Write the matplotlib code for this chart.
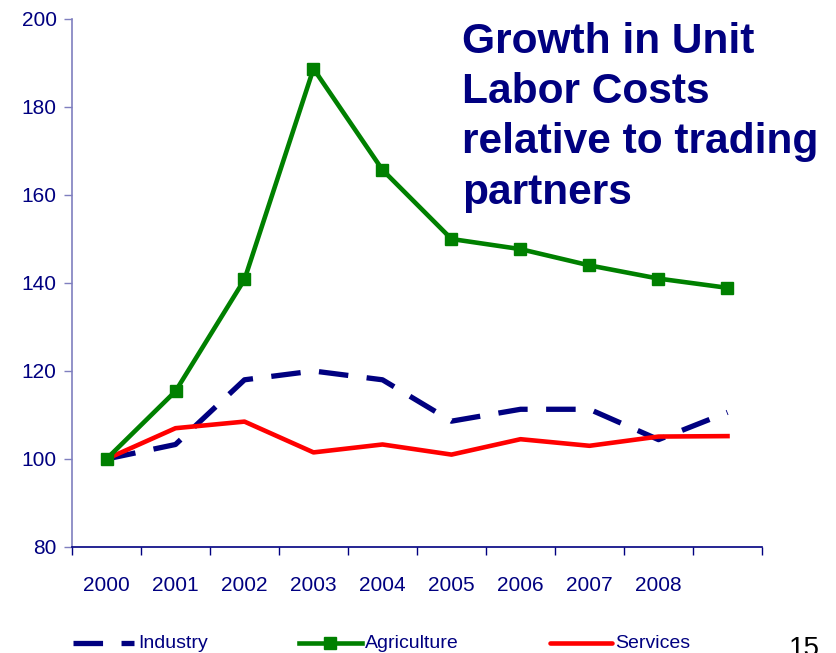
import matplotlib
matplotlib.use("Agg")
import matplotlib.pyplot as plt
from matplotlib.lines import Line2D

years = ["2000", "2001", "2002", "2003", "2004", "2005", "2006", "2007", "2008", ""]
industry = [100, 103.3, 118, 120, 118, 108.6, 111.3, 111.3, 104.4, 110.6]
agriculture = [100, 115.4, 140.8, 188.7, 165.7, 150, 147.7, 144, 141, 138.9]
services = [100, 107, 108.5, 101.5, 103.3, 101, 104.5, 103, 105.1, 105.2]
series_names = ["Industry", "Agriculture", "Services"]

navy = "#000080"
green = "#008000"
red = "#FF0000"

plt.rcParams['font.family'] = ['Liberation Sans', 'DejaVu Sans']

W, H = 837, 653
fig = plt.figure(figsize=(W/100, H/100), dpi=100)
ax = fig.add_axes([72/W, 1-547/H, (762-72)/W, (547-19)/H])

x = list(range(len(years)))
ax.plot(x, industry, color=navy, lw=3.8, dashes=(5.6, 3.5), solid_capstyle='butt', zorder=3)
ax.plot(x, agriculture, color=green, lw=3.3, marker='s', markersize=8.5, zorder=4)
ax.plot(x, services, color=red, lw=3.3, zorder=3)

ax.set_ylim(80, 200)
ax.set_xlim(-0.5, len(years) - 0.5)
ax.set_yticks([80, 100, 120, 140, 160, 180, 200])
ax.set_xticks([i - 0.5 for i in range(len(years) + 1)])
ax.set_xticklabels([])
ax.set_xticks(x, minor=True)
ax.set_xticklabels(years, minor=True)
ax.tick_params(axis='x', which='minor', length=0, pad=21, labelsize=15, labelcolor=navy)
ax.tick_params(axis='x', which='major', length=6, width=1, color=navy)
ax.tick_params(axis='y', length=6, width=1, color="#7F7FBF", labelsize=15, labelcolor=navy, pad=5)

for s in ['top', 'right']:
    ax.spines[s].set_visible(False)
ax.spines['left'].set_color("#7F7FBF")
ax.spines['bottom'].set_color(navy)
ax.spines['left'].set_linewidth(1.2)
ax.spines['bottom'].set_linewidth(1.2)

fig.text(462/W, 1-22/H, "Growth in Unit\nLabor Costs\nrelative to trading\npartners",
         ha='left', va='top', fontsize=30.6, fontweight='bold', color=navy, linespacing=1.33)

# legend drawn manually in figure pixels
ly = 1 - 643/H
leg_specs = [
    (73, 134, 138, dict(color=navy, lw=3.8, dashes=(5.6, 3.5), solid_capstyle='butt')),
    (299, 362, 365, dict(color=green, lw=3.3)),
    (550, 612, 615, dict(color=red, lw=3.3, solid_capstyle='round')),
]
for (x0, x1, tx, st), name in zip(leg_specs, series_names):
    fig.add_artist(Line2D([x0/W, x1/W], [ly, ly], transform=fig.transFigure, **st))
    fig.text(tx/W, ly - 1/H, name, ha='left', va='center', fontsize=14, color=navy)
fig.add_artist(Line2D([330/W], [ly], transform=fig.transFigure, color=green,
                      marker='s', markersize=8.5, lw=0))

fig.text(789/W, 1-636/H, "15", ha='left', va='top', fontsize=20, color='black')

fig.savefig("out.png", dpi=100)
